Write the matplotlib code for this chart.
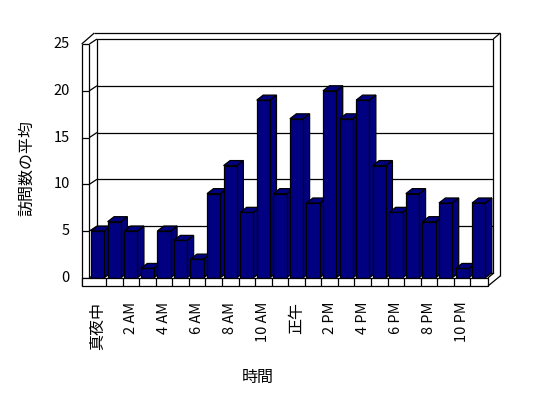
import matplotlib
matplotlib.use("Agg")
import matplotlib.pyplot as plt
from matplotlib.patches import Polygon, Rectangle

plt.rcParams['font.family'] = ['Noto Sans CJK JP', 'DejaVu Sans']

# ---- data ----
categories = ['真夜中', '1 AM', '2 AM', '3 AM', '4 AM', '5 AM', '6 AM', '7 AM',
              '8 AM', '9 AM', '10 AM', '11 AM', '正午', '1 PM', '2 PM', '3 PM',
              '4 PM', '5 PM', '6 PM', '7 PM', '8 PM', '9 PM', '10 PM', '11 PM']
values = [5, 6, 5, 1, 5, 4, 2, 9, 12, 7, 19, 9, 17, 8, 20, 17, 19, 12, 7, 9, 6, 8, 1, 8]
yticks = [0, 5, 10, 15, 20, 25]
xlabel = '時間'
ylabel = '訪問数の平均'

W, H = 548, 398
fig = plt.figure(figsize=(W / 100, H / 100), dpi=100)
fig.patch.set_facecolor('white')

# front plane: x -0.5..23.5 -> px 89.4..487 ; y 0..25 -> px 277.8..44
x0p, x1p = 89.4, 487.0
y0p, y1p = 277.8, 44.0
ax = fig.add_axes([x0p / W, 1 - y0p / H, (x1p - x0p) / W, (y0p - y1p) / H])
ax.set_xlim(-0.5, 23.5)
ax.set_ylim(0, 25)
ax.axis('off')

sx = (x1p - x0p) / 24.0   # px per x unit
sy = (y0p - y1p) / 25.0   # px per y unit
n = len(values)

# depth offsets (data units)
dxw, dyw = 7.6 / sx, 5.0 / sy      # walls
dxb, dyb = 6.5 / sx, 5.0 / sy      # bars
wall_t = 7.7 / sx                  # left wall thickness (front face)
floor_t = 8.2 / sy                 # floor thickness (front face)
xr = -0.5 + n + 0.06               # right end of floor front face

LW = 0.9
kw = dict(color='black', lw=LW, clip_on=False, solid_capstyle='butt')

# back wall inner face
bx0 = -0.5 + dxw
bx1 = -0.5 + n + 6.3 / sx
by0, by1 = dyw, 25 + dyw
ax.add_patch(Rectangle((bx0, by0), bx1 - bx0, by1 - by0, fc='white', ec='black',
                       lw=LW, clip_on=False, zorder=1))
# gridlines on back wall and left wall inner face, ticks on left wall front
for v in yticks:
    if 0 < v < 25:
        ax.plot([bx0, bx1], [v + dyw, v + dyw], zorder=1.5, **kw)
    ax.plot([-0.5, bx0], [v, v + dyw], zorder=1.5, **kw)
    ax.plot([-0.5 - wall_t, -0.5], [v, v], zorder=1.5, **kw)

# back wall top thickness and right side
tdy = 6.0 / sy
bxo = bx1 + 7.0 / sx
ax.plot([bx0 - 2.7 / sx, bxo], [25 + dyw + tdy, 25 + dyw + tdy], zorder=1.5, **kw)
ax.plot([bx1, bxo], [25 + dyw, 25 + dyw + tdy], zorder=1.5, **kw)
ax.plot([bxo, bxo], [25 + dyw + tdy, 0.2], zorder=1.5, **kw)
# left wall top
ax.plot([-0.5 - wall_t, bx0 - 2.7 / sx], [25, 25 + dyw + tdy], zorder=1.5, **kw)
# left wall front face
ax.plot([-0.5 - wall_t, -0.5 - wall_t], [25, -floor_t], zorder=1.5, **kw)
ax.plot([-0.5, -0.5], [25, 0], zorder=1.5, **kw)

# bars
for i, v in enumerate(values):
    z = 2 + i * 0.01
    l, r = i - 0.4, i + 0.4
    front = Rectangle((l, 0), r - l, v, fc='#000080', ec='black', lw=LW,
                      clip_on=False, zorder=z)
    side = Polygon([(r, 0), (r + dxb, dyb), (r + dxb, v + dyb), (r, v)], closed=True,
                   fc='#000080', ec='black', lw=LW, clip_on=False, zorder=z)
    top = Polygon([(l, v), (r, v), (r + dxb, v + dyb), (l + dxb, v + dyb)], closed=True,
                  fc='#000080', ec='black', lw=LW, clip_on=False, zorder=z)
    ax.add_patch(side)
    ax.add_patch(top)
    ax.add_patch(front)

# floor front face
ax.add_patch(Rectangle((-0.5 - wall_t, -floor_t), xr - (-0.5 - wall_t), floor_t,
                       fc='white', ec='black', lw=LW, clip_on=False, zorder=3))
for i in range(n - 1):
    ax.plot([i + 0.5, i + 0.5], [-floor_t, 0], zorder=3.1, **kw)
# floor right end
ax.plot([xr, bxo], [-floor_t, 0.2], zorder=3.1, **kw)
ax.plot([xr, xr + 6.0 / sx], [0, 5.0 / sy], zorder=3.1, **kw)

# y tick labels
for v in yticks:
    ax.text(-0.5 - wall_t - 12.0 / sx, v, str(v), ha='right', va='center',
            fontsize=10.5, clip_on=False)

# x tick labels (every other)
for i in range(0, n, 2):
    lab = categories[i]
    cjk = any(ord(c) > 0x3000 for c in lab)
    ax.text(i, -(301.5 - y0p) / sy, lab, rotation=90, ha='center', va='top',
            fontsize=11.5 if cjk else 10.5, clip_on=False)

# axis titles
fig.text(258 / W, 1 - 377 / H, xlabel, ha='center', va='center', fontsize=11.5)
fig.text(27 / W, 1 - 168 / H, ylabel, ha='center', va='center', rotation=90, fontsize=11.5)

fig.savefig('out.png', dpi=100, facecolor='white')
